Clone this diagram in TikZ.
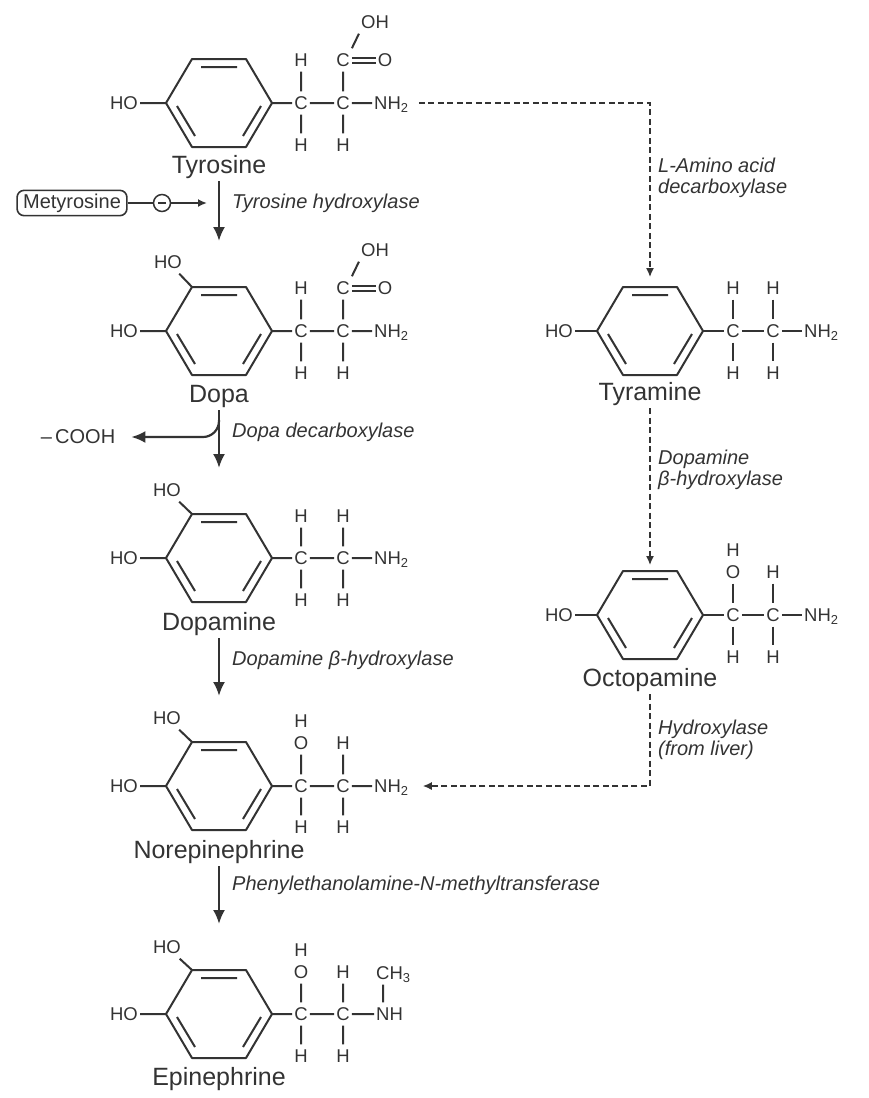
\documentclass[tikz,border=0pt]{standalone}
\usepackage{fontspec}
\setmainfont{Liberation Sans}
\usetikzlibrary{arrows.meta}
\definecolor{ink}{HTML}{333333}
\tikzset{
  every node/.style={text=ink},
  atom/.style={
    inner xsep=2pt,
    inner ysep=5pt,
    text height=13pt,
    text depth=0pt,
    font=\fontsize{18.5}{20}\selectfont
  },
  compound/.style={
    inner sep=8pt,
    text height=18pt,
    text depth=0pt,
    font=\fontsize{25}{28}\selectfont
  },
  enzyme/.style={
    anchor=base west,
    align=left,
    inner sep=0pt,
    font=\fontsize{20}{21}\selectfont\itshape
  },
  bond/.style={draw=ink, line width=2pt, line join=round},
  reaction/.style={draw=ink, line width=2.2pt, -{Latex[length=14pt,width=12pt]}},
  sidepath/.style={draw=ink, line width=1.4pt, dash pattern=on 6pt off 3.5pt,
    -{Latex[length=9pt,width=8pt]}},
  benzene/.pic={
    \draw[bond] (-53,0) coordinate (-l) -- (-27,-44) coordinate (-tl)
      -- (27,-44) -- (53,0) coordinate (-r) -- (27,44) -- (-27,44) -- cycle;
    \coordinate (-top) at (0,-44);
    \draw[bond] (-18,-36) -- (18,-36) (-42,3) -- (-24,33) (42,3) -- (24,33);
  }
}

\begin{document}
\begin{tikzpicture}[x=1pt, y=-1pt]
    \useasboundingbox (0,0) rectangle (868,1098);

    \pic (tyr) at (219,103) {benzene};
    \node[atom] (tyr-ho) at (124,103) {HO};
    \node[atom] (tyr-c1) at (301,103) {C};
    \node[atom] (tyr-c2) at (343,103) {C};
    \node[atom, anchor=west] (tyr-n) at (372,103) {NH\textsubscript{2}};
    \node[atom] (tyr-h1) at (301,60) {H};
    \node[atom] (tyr-h2) at (301,145) {H};
    \node[atom] (tyr-h3) at (343,145) {H};
    \node[atom] (tyr-c3) at (343,60) {C};
    \node[atom] (tyr-o) at (385,60) {O};
    \node[atom] (tyr-oh) at (375,22) {OH};
    \node[compound] (tyr-name) at (219,164) {Tyrosine};
    \draw[bond] (tyr-ho) -- (tyr-l) (tyr-r) -- (tyr-c1) -- (tyr-c2) -- (tyr-n)
      (tyr-h1) -- (tyr-c1) -- (tyr-h2) (tyr-c3) -- (tyr-c2) -- (tyr-h3)
      (tyr-c3.north east) -- (tyr-oh.south west);
    \draw[bond, double, double distance=3pt] (tyr-c3) -- (tyr-o);

    \pic (dopa) at (219,331) {benzene};
    \node[atom] (dopa-ho1) at (168,262) {HO};
    \node[atom] (dopa-ho2) at (124,331) {HO};
    \node[atom] (dopa-c1) at (301,331) {C};
    \node[atom] (dopa-c2) at (343,331) {C};
    \node[atom, anchor=west] (dopa-n) at (372,331) {NH\textsubscript{2}};
    \node[atom] (dopa-h1) at (301,288) {H};
    \node[atom] (dopa-h2) at (301,373) {H};
    \node[atom] (dopa-h3) at (343,373) {H};
    \node[atom] (dopa-c3) at (343,288) {C};
    \node[atom] (dopa-o) at (385,288) {O};
    \node[atom] (dopa-oh) at (375,250) {OH};
    \node[compound] (dopa-name) at (219,393) {Dopa};
    \draw[bond] (dopa-ho1) -- (dopa-tl) (dopa-ho2) -- (dopa-l)
      (dopa-r) -- (dopa-c1) -- (dopa-c2) -- (dopa-n)
      (dopa-h1) -- (dopa-c1) -- (dopa-h2) (dopa-c3) -- (dopa-c2) -- (dopa-h3)
      (dopa-c3.north east) -- (dopa-oh.south west);
    \draw[bond, double, double distance=3pt] (dopa-c3) -- (dopa-o);

    \pic (dpm) at (219,558) {benzene};
    \node[atom] (dpm-ho1) at (167,490) {HO};
    \node[atom] (dpm-ho2) at (124,558) {HO};
    \node[atom] (dpm-c1) at (301,558) {C};
    \node[atom] (dpm-c2) at (343,558) {C};
    \node[atom, anchor=west] (dpm-n) at (372,558) {NH\textsubscript{2}};
    \node[atom] (dpm-h1) at (301,516) {H};
    \node[atom] (dpm-h2) at (343,516) {H};
    \node[atom] (dpm-h3) at (301,600) {H};
    \node[atom] (dpm-h4) at (343,600) {H};
    \node[compound] (dpm-name) at (219,621) {Dopamine};
    \draw[bond] (dpm-ho1) -- (dpm-tl) (dpm-ho2) -- (dpm-l)
      (dpm-r) -- (dpm-c1) -- (dpm-c2) -- (dpm-n)
      (dpm-h1) -- (dpm-c1) -- (dpm-h3) (dpm-h2) -- (dpm-c2) -- (dpm-h4);

    \pic (ne) at (219,786) {benzene};
    \node[atom] (ne-ho1) at (167,718) {HO};
    \node[atom] (ne-ho2) at (124,786) {HO};
    \node[atom] (ne-c1) at (301,786) {C};
    \node[atom] (ne-c2) at (343,786) {C};
    \node[atom, anchor=west] (ne-n) at (372,786) {NH\textsubscript{2}};
    \node[atom] (ne-o) at (301,743) {O};
    \node[atom] (ne-h1) at (301,721) {H};
    \node[atom] (ne-h2) at (343,743) {H};
    \node[atom] (ne-h3) at (301,827) {H};
    \node[atom] (ne-h4) at (343,827) {H};
    \node[compound] (ne-name) at (219,849) {Norepinephrine};
    \draw[bond] (ne-ho1) -- (ne-tl) (ne-ho2) -- (ne-l)
      (ne-r) -- (ne-c1) -- (ne-c2) -- (ne-n)
      (ne-o) -- (ne-c1) -- (ne-h3) (ne-h2) -- (ne-c2) -- (ne-h4);

    \pic (epi) at (219,1014) {benzene};
    \node[atom] (epi-ho1) at (167,947) {HO};
    \node[atom] (epi-ho2) at (124,1014) {HO};
    \node[atom] (epi-c1) at (301,1014) {C};
    \node[atom] (epi-c2) at (343,1014) {C};
    \node[atom, anchor=west] (epi-n) at (374,1014) {NH};
    \node[atom, anchor=west] (epi-ch3) at (374,973) {CH\textsubscript{3}};
    \node[atom] (epi-o) at (301,972) {O};
    \node[atom] (epi-h1) at (301,950) {H};
    \node[atom] (epi-h2) at (343,972) {H};
    \node[atom] (epi-h3) at (301,1056) {H};
    \node[atom] (epi-h4) at (343,1056) {H};
    \node[compound] (epi-name) at (219,1076) {Epinephrine};
    \draw[bond] (epi-ho1) -- (epi-tl) (epi-ho2) -- (epi-l)
      (epi-r) -- (epi-c1) -- (epi-c2) -- (epi-n)
      (epi-o) -- (epi-c1) -- (epi-h3) (epi-h2) -- (epi-c2) -- (epi-h4)
      ([xshift=9pt]epi-n.north west) -- ([xshift=9pt]epi-ch3.south west);

    \pic (tyra) at (650,331) {benzene};
    \node[atom] (tyra-ho) at (559,331) {HO};
    \node[atom] (tyra-c1) at (733,331) {C};
    \node[atom] (tyra-c2) at (773,331) {C};
    \node[atom, anchor=west] (tyra-n) at (802,331) {NH\textsubscript{2}};
    \node[atom] (tyra-h1) at (733,288) {H};
    \node[atom] (tyra-h2) at (773,288) {H};
    \node[atom] (tyra-h3) at (733,373) {H};
    \node[atom] (tyra-h4) at (773,373) {H};
    \node[compound] (tyra-name) at (650,391) {Tyramine};
    \draw[bond] (tyra-ho) -- (tyra-l) (tyra-r) -- (tyra-c1) -- (tyra-c2) -- (tyra-n)
      (tyra-h1) -- (tyra-c1) -- (tyra-h3) (tyra-h2) -- (tyra-c2) -- (tyra-h4);

    \pic (octo) at (650,615) {benzene};
    \node[atom] (octo-ho) at (559,615) {HO};
    \node[atom] (octo-c1) at (733,615) {C};
    \node[atom] (octo-c2) at (773,615) {C};
    \node[atom, anchor=west] (octo-n) at (802,615) {NH\textsubscript{2}};
    \node[atom] (octo-o) at (733,572) {O};
    \node[atom] (octo-h1) at (733,550) {H};
    \node[atom] (octo-h2) at (773,572) {H};
    \node[atom] (octo-h3) at (733,657) {H};
    \node[atom] (octo-h4) at (773,657) {H};
    \node[compound] (octo-name) at (650,677) {Octopamine};
    \draw[bond] (octo-ho) -- (octo-l) (octo-r) -- (octo-c1) -- (octo-c2) -- (octo-n)
      (octo-o) -- (octo-c1) -- (octo-h3) (octo-h2) -- (octo-c2) -- (octo-h4);

    \node[draw=ink, rounded corners=7pt, line width=1.6pt, inner xsep=6pt,
      minimum height=25pt, font=\fontsize{20}{22}\selectfont] (mety) at (72,203) {Metyrosine};
    \node[draw=ink, circle, line width=1.5pt, minimum size=17pt, inner sep=0pt]
      (inhib) at (162,203) {\rule{8pt}{1.4pt}};
    \coordinate (hyd-tip) at (207,203);
    \draw[bond] (mety) -- (inhib);
    \draw[bond, -{Latex[length=9pt,width=8pt]}] (inhib) -- (hyd-tip);

    \node[atom, font=\fontsize{20}{22}\selectfont] (cooh) at (78,437) {–\,COOH};

    \draw[reaction] (tyr-name) -- ([yshift=46pt]dopa-top);
    \draw[reaction] (dopa-name) -- ([yshift=46pt]dpm-top);
    \draw[reaction] (dpm-name) -- ([yshift=46pt]ne-top);
    \draw[reaction] (ne-name) -- ([yshift=46pt]epi-top);
    \draw[reaction, rounded corners=16pt, shorten >=14pt]
      ([yshift=-10pt]dopa-name.south) |- (cooh);

    \draw[sidepath, shorten <=8pt] (tyr-n) -| ([yshift=10pt]tyra-top);
    \draw[sidepath] (tyra-name) -- ([yshift=6pt]octo-top);
    \draw[sidepath, shorten >=12pt] (octo-name) |- (ne-n);

    \node[enzyme] (tyr-enz) at (232,208) {Tyrosine hydroxylase};
    \node[enzyme] (dopa-enz) at (232,437) {Dopa decarboxylase};
    \node[enzyme] (dpm-enz) at (232,665) {Dopamine β-hydroxylase};
    \node[enzyme] (ne-enz) at (232,890) {Phenylethanolamine-N-methyltransferase};
    \node[enzyme] (tyra-enz) at (658,193) {L-Amino acid\\decarboxylase};
    \node[enzyme] (octo-enz) at (658,485) {Dopamine\\β-hydroxylase};
    \node[enzyme] (liver-enz) at (658,755) {Hydroxylase\\(from liver)};
\end{tikzpicture}
\end{document}
